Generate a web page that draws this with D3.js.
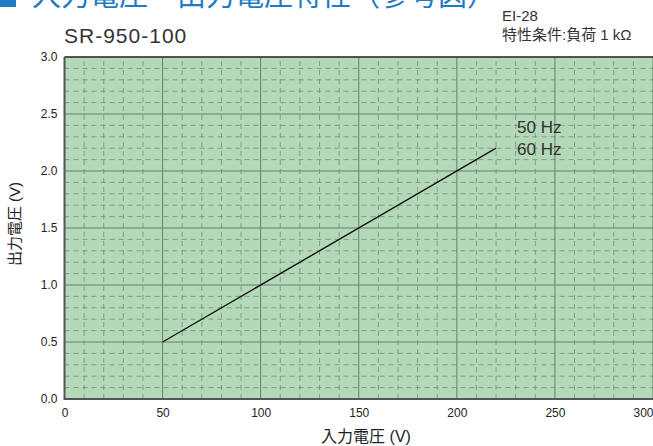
<!DOCTYPE html>
<html><head><meta charset="utf-8">
<script src="https://cdn.jsdelivr.net/npm/d3@7"></script>
<style>body{margin:0;background:#fff;} svg{display:block;}</style>
</head><body>
<svg id="c" width="653" height="446"></svg>
<script>
const xTicks = [0, 50, 100, 150, 200, 250, 300];
const yTicks = [0.0, 0.5, 1.0, 1.5, 2.0, 2.5, 3.0];
const seriesX = [50, 220];
const seriesY = [0.5, 2.2];
const seriesNames = ["50 Hz", "60 Hz"];

const svg = d3.select("#c");
const x = d3.scaleLinear().domain([0, 300]).range([64.5, 653]);
const y = d3.scaleLinear().domain([0, 3]).range([399, 57]);
const font = "'Liberation Sans','Noto Sans CJK JP',sans-serif";
const jfont = "'Noto Sans CJK JP',sans-serif";

// title
svg.append("rect").attr("x", 0).attr("y", -10).attr("width", 16).attr("height", 17).attr("fill", "#1e7bc4");
svg.append("text").attr("x", 32).attr("y", 6).attr("font-family", jfont).attr("font-size", 29)
  .attr("fill", "#1e7bc4").text("入力電圧－出力電圧特性（参考図）");
svg.append("text").attr("x", 64).attr("y", 43).attr("font-family", font).attr("font-size", 21)
  .attr("letter-spacing", 1).attr("fill", "#333").text("SR-950-100");
svg.append("text").attr("x", 502).attr("y", 21).attr("font-family", font).attr("font-size", 15)
  .attr("fill", "#333").text("EI-28");
svg.append("text").attr("x", 502).attr("y", 40).attr("font-family", font).attr("font-size", 15)
  .attr("fill", "#333").text("特性条件:負荷 1 kΩ");

// plot bg
svg.append("rect").attr("x", x(0)).attr("y", y(3)).attr("width", x(300) - x(0)).attr("height", y(0) - y(3))
  .attr("fill", "#b3d9b8");

// minor grid
const minorX = d3.range(0, 301, 10).filter(v => v % 50 !== 0);
const minorY = d3.range(0, 31, 1).map(v => v / 10).filter((v, i) => i % 5 !== 0);
svg.append("g").selectAll("line").data(minorX).join("line")
  .attr("x1", d => x(d)).attr("x2", d => x(d)).attr("y1", y(0)).attr("y2", y(3))
  .attr("stroke", "#6f9273").attr("stroke-width", 0.8).attr("stroke-dasharray", "5,4");
svg.append("g").selectAll("line").data(minorY).join("line")
  .attr("y1", d => y(d)).attr("y2", d => y(d)).attr("x1", x(0)).attr("x2", x(300))
  .attr("stroke", "#6f9273").attr("stroke-width", 0.8).attr("stroke-dasharray", "5,4");
// major grid
svg.append("g").selectAll("line").data(xTicks).join("line")
  .attr("x1", d => x(d)).attr("x2", d => x(d)).attr("y1", y(0)).attr("y2", y(3))
  .attr("stroke", "#64806a").attr("stroke-width", 1);
svg.append("g").selectAll("line").data(yTicks).join("line")
  .attr("y1", d => y(d)).attr("y2", d => y(d)).attr("x1", x(0)).attr("x2", x(300))
  .attr("stroke", "#64806a").attr("stroke-width", 1);

// border
svg.append("line").attr("x1", x(0)).attr("x2", x(300)).attr("y1", y(3)).attr("y2", y(3)).attr("stroke", "#333").attr("stroke-width", 1.5);
svg.append("line").attr("x1", x(0)).attr("x2", x(300)).attr("y1", y(0)).attr("y2", y(0)).attr("stroke", "#555").attr("stroke-width", 2);
svg.append("line").attr("x1", x(0)).attr("x2", x(0)).attr("y1", y(0) + 1).attr("y2", y(3)).attr("stroke", "#555").attr("stroke-width", 2);

// axes labels
const xa = svg.append("g").attr("transform", `translate(0,${y(0)})`)
  .call(d3.axisBottom(x).tickValues(xTicks).tickSize(0).tickPadding(9).tickFormat(d3.format("d")));
xa.select(".domain").remove();
xa.selectAll("text").attr("font-family", "'Liberation Sans',Arial,sans-serif").attr("font-size", 12).attr("fill", "#222")
  .attr("text-anchor", d => d === 300 ? "end" : "middle");
const ya = svg.append("g").attr("transform", `translate(${x(0)},0)`)
  .call(d3.axisLeft(y).tickValues(yTicks).tickSize(0).tickPadding(7).tickFormat(d3.format(".1f")));
ya.select(".domain").remove();
ya.selectAll("text").attr("font-family", "'Liberation Sans',Arial,sans-serif").attr("font-size", 12).attr("fill", "#222");

svg.append("text").attr("x", 366).attr("y", 442).attr("text-anchor", "middle").attr("font-family", font)
  .attr("font-size", 16).attr("fill", "#222").text("入力電圧 (V)");
svg.append("text").attr("transform", "translate(20,224) rotate(-90)").attr("text-anchor", "middle").attr("font-family", font)
  .attr("font-size", 15).attr("fill", "#222").text("出力電圧 (V)");

// series line
const line = d3.line().x(d => x(d[0])).y(d => y(d[1]));
svg.append("path").datum(seriesX.map((v, i) => [v, seriesY[i]])).attr("d", line)
  .attr("fill", "none").attr("stroke", "#111").attr("stroke-width", 1.4);

svg.append("g").selectAll("text").data(seriesNames).join("text")
  .attr("x", 517).attr("y", (d, i) => 133 + i * 22).attr("font-family", font).attr("font-size", 17)
  .attr("fill", "#333").text(d => d);
</script>
</body></html>
